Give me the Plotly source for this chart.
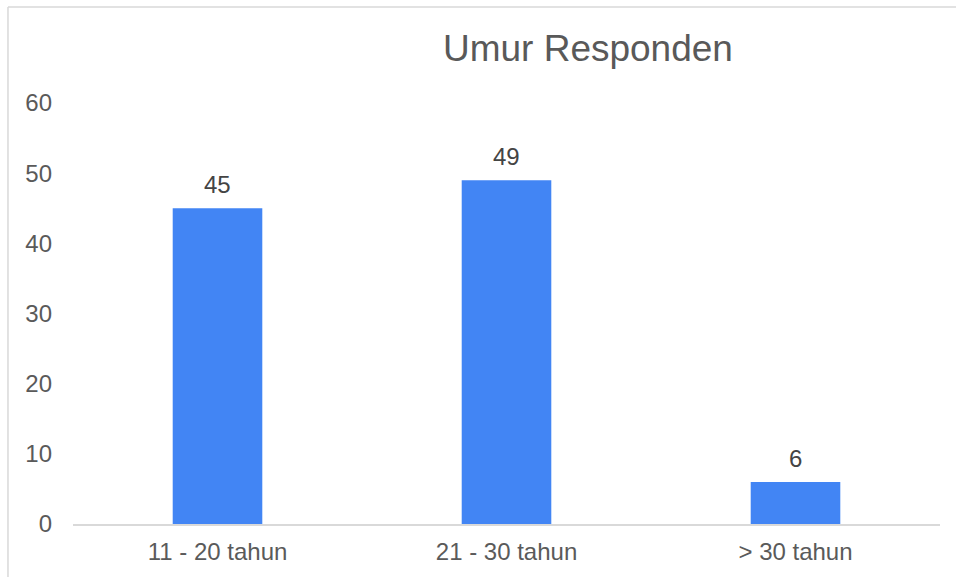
import plotly.graph_objects as go

categories = ["11 - 20 tahun", "21 - 30 tahun", "> 30 tahun"]
values = [45, 49, 6]
y_ticks = [0, 10, 20, 30, 40, 50, 60]
title_text = "Umur Responden"

BAR_COLOR = "#4285F4"
FONT = "Liberation Sans, Arial, sans-serif"

fig = go.Figure()
fig.add_trace(go.Bar(
    x=categories, y=values,
    marker=dict(color=BAR_COLOR, line=dict(width=0)),
    width=0.31,
    hoverinfo="skip",
))

for c, v in zip(categories, values):
    fig.add_annotation(
        x=c, y=v, text=str(v), showarrow=False,
        yanchor="bottom", yshift=8,
        font=dict(family=FONT, size=24, color="#444444"),
    )

# outer chart border (only left and top edges visible)
BORDER = dict(color="#d9d9d9", width=1.5)
fig.add_shape(type="line", xref="paper", yref="paper",
              x0=-0.075, x1=-0.075, y0=-0.2, y1=1.228, line=BORDER, layer="below")
fig.add_shape(type="line", xref="paper", yref="paper",
              x0=-0.075, x1=1.2, y0=1.228, y1=1.228, line=BORDER, layer="below")

fig.update_layout(
    width=956, height=577,
    margin=dict(l=73, r=16, t=103, b=53, autoexpand=False),
    paper_bgcolor="white", plot_bgcolor="white",
    showlegend=False,
    title=dict(text=title_text, x=0.615, xanchor="center", y=0.9168, yanchor="middle",
               font=dict(family=FONT, size=37, color="#595959")),
    xaxis=dict(
        showline=True, linecolor="#d9d9d9", linewidth=1.5, automargin=False,
        ticks="", showgrid=False, zeroline=False, ticklabelstandoff=6,
        tickfont=dict(family=FONT, size=24, color="#5a5a5a"),
    ),
    yaxis=dict(
        range=[0, 60], tickvals=y_ticks, showgrid=False, zeroline=False, automargin=False,
        showline=False, ticks="", ticklabelstandoff=20,
        tickfont=dict(family=FONT, size=24, color="#5a5a5a"),
    ),
)

fig.write_html(
    "out.html",
    config={"displayModeBar": False, "staticPlot": True},
    post_script="document.body.style.margin='0';document.body.style.overflow='hidden';",
)
